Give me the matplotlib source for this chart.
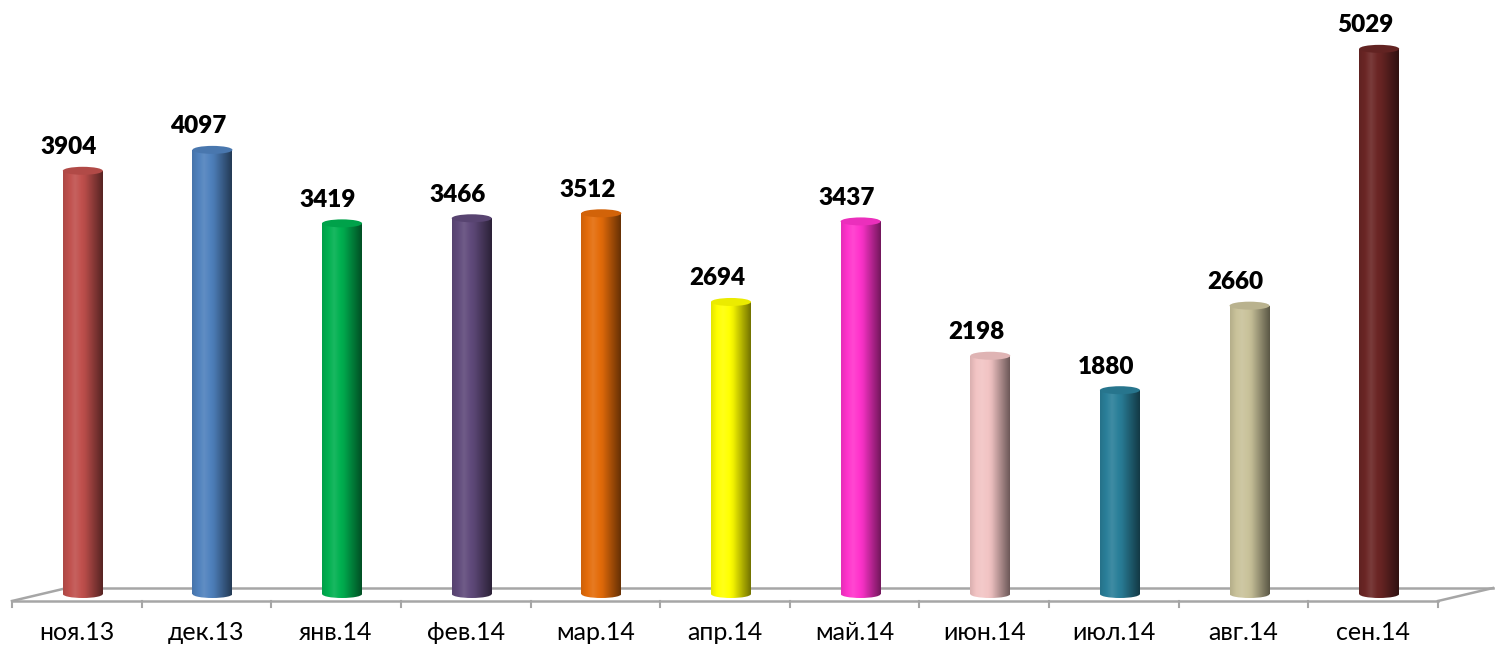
import numpy as np
import matplotlib
matplotlib.use("Agg")
import matplotlib.pyplot as plt
from matplotlib.patches import Ellipse
from matplotlib.colors import to_rgb

# данные
months = ["ноя.13", "дек.13", "янв.14", "фев.14", "мар.14", "апр.14",
          "май.14", "июн.14", "июл.14", "авг.14", "сен.14"]
values = [3904, 4097, 3419, 3466, 3512, 2694, 3437, 2198, 1880, 2660, 5029]
colors = ["#C0504D", "#4F81BD", "#00B050", "#604A7B", "#E46C0A", "#FFFF00",
          "#FF33CC", "#F2C4C4", "#2A7F99", "#C9C29A", "#6B2625"]

plt.rcParams['font.family'] = ['Lato', 'DejaVu Sans']

fig = plt.figure(figsize=(14.99, 6.47), dpi=100)
ax = fig.add_axes([0, 0, 1, 1])

# пиксели -> единицы
ux = 11 / 1426.0
uy = 9.225
ax.set_xlim(-0.5 - 12 * ux, 10.5 + 61 * ux)
ax.set_ylim(-53 * uy, 594 * uy)
ax.axis("off")

# пол (перспектива)
gray = "#a6a6a6"
yf = -7 * uy
yb = 6 * uy
dx = 55 * ux
n = len(months)
ax.plot([-0.5, n - 0.5], [yf, yf], color=gray, lw=1.8, zorder=1)
ax.plot([-0.5 + dx, n - 0.5 + dx], [yb, yb], color=gray, lw=1.8, zorder=1)
ax.plot([-0.5, -0.5 + dx], [yf, yb], color=gray, lw=1.8, zorder=1)
ax.plot([n - 0.5, n - 0.5 + dx], [yf, yb], color=gray, lw=1.8, zorder=1)
for k in range(n + 1):
    ax.plot([k - 0.5, k - 0.5], [yf, yf - 6 * uy], color=gray, lw=1.5, zorder=1)

# цилиндры
w = 40 * ux
off = 6 * ux
eh = 8 * uy
t = np.linspace(0, 1, 80)
shade = np.interp(t, [0, 0.3, 0.55, 1], [0.9, 1.1, 0.95, 0.45])

def grad(c):
    rgb = np.array(to_rgb(c))
    img = np.clip(rgb[None, :] * shade[:, None], 0, 1)
    img = np.where(shade[:, None] > 1, rgb[None, :] + (1 - rgb[None, :]) * (shade[:, None] - 1), img)
    return np.clip(img, 0, 1)[None, :, :]

bars = ax.bar(np.arange(n) + off, values, width=w, color="none", zorder=2)
for i, (b, v, c) in enumerate(zip(bars, values, colors)):
    x0 = b.get_x()
    img = grad(c)
    im = ax.imshow(img, extent=[x0, x0 + w, 0, v], aspect="auto", zorder=3,
                   interpolation="bilinear")
    im.set_clip_path(b)
    bot = Ellipse((x0 + w / 2, 0), w, eh, facecolor="none", edgecolor="none", zorder=3)
    ax.add_patch(bot)
    im2 = ax.imshow(img, extent=[x0, x0 + w, -eh, eh], aspect="auto", zorder=3,
                    interpolation="bilinear")
    im2.set_clip_path(bot)
    rgb = np.array(to_rgb(c))
    top = Ellipse((x0 + w / 2, v), w, eh, zorder=4,
                  facecolor=rgb * 0.92, edgecolor="none")
    ax.add_patch(top)
    ax.annotate(str(v), (i - 8 * ux, v), xytext=(0, 9), textcoords="offset points",
                ha="center", va="bottom", fontsize=17.5, fontweight="heavy", zorder=5)

for i, m in enumerate(months):
    ax.text(i, -39 * uy, m, ha="center", va="center", fontsize=18)

fig.savefig("out.png", dpi=100)
